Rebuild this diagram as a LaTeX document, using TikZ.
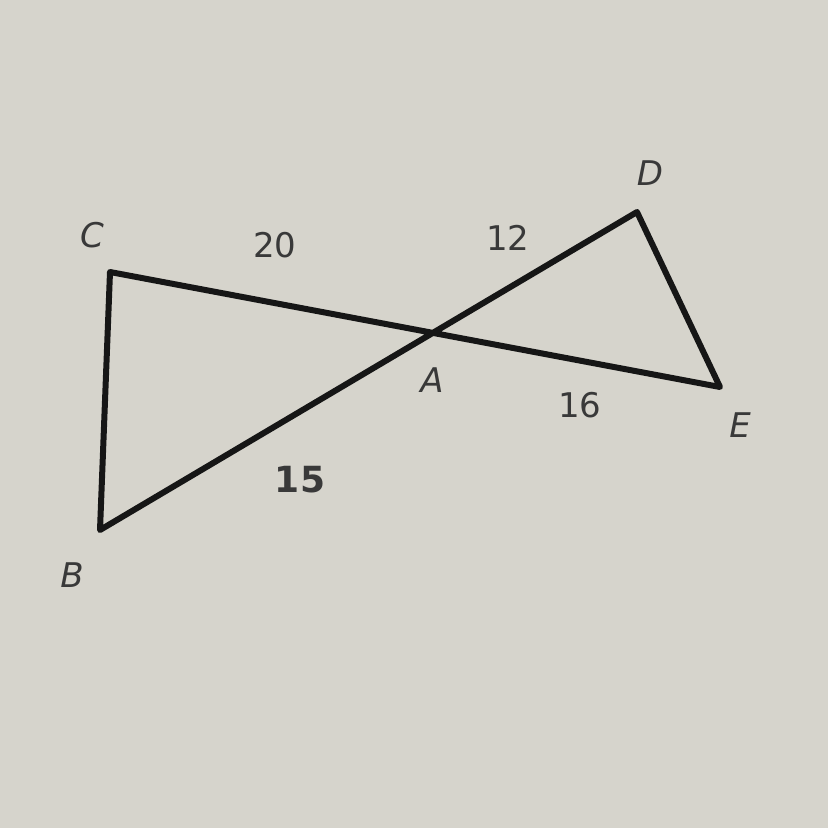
\documentclass[tikz,border=0pt]{standalone}
\usepackage{fontspec}
\setmainfont{DejaVu Sans}
\usepackage{tikz}
\definecolor{paper}{RGB}{214,212,204}
\definecolor{ink}{RGB}{22,22,22}
\tikzset{
  side/.style={line width=6pt, ink, line join=round, line cap=round},
  vlabel/.style={font=\fontsize{34}{34}\selectfont\itshape, text=ink!85},
  nlabel/.style={font=\fontsize{34}{34}\selectfont, text=ink!85}
}

\begin{document}
\begin{tikzpicture}[x=1pt, y=-1pt]
    \fill[paper] (0,0) rectangle (828,828);
    \useasboundingbox (0,0) rectangle (828,828);
\coordinate (C) at (110,272);
\coordinate (B) at (100,530);
\coordinate (A) at (430,335);
\coordinate (D) at (637,212);
\coordinate (E) at (720,387);
\draw[side] (C) -- (B) -- (D) -- (E) -- cycle;
\node[vlabel] (lC) at (92,235) {C};
\node[vlabel] (lD) at (650,173) {D};
\node[vlabel] (lA) at (432,380) {A};
\node[vlabel] (lE) at (740,425) {E};
\node[vlabel] (lB) at (72,575) {B};
\node[nlabel] (l20) at (275,245) {20};
\node[nlabel] (l12) at (508,238) {12};
\node[nlabel] (l16) at (580,405) {16};
\node[nlabel, font=\fontsize{36}{36}\selectfont\bfseries] (l15) at (300,480) {15};

\end{tikzpicture}
\end{document}
